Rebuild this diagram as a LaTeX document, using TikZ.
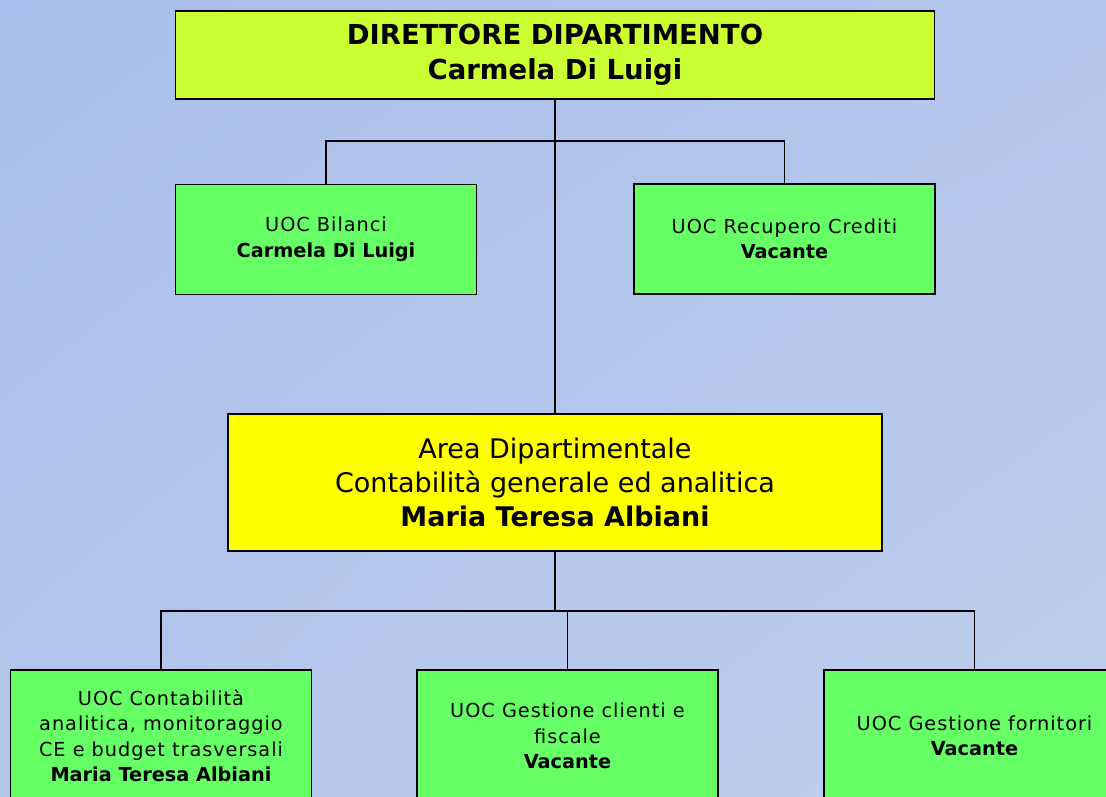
\documentclass[tikz,border=0pt]{standalone}
\usepackage{fontspec}
\setmainfont{DejaVu Sans}
\newfontfamily\uocfont{DejaVu Sans}[LetterSpace=5, BoldFeatures={LetterSpace=0}]
\usepackage{xcolor}
\usetikzlibrary{shadings}
\definecolor{bgtl}{RGB}{167,191,234}
\definecolor{bgmid}{RGB}{179,198,235}
\definecolor{bgbr}{RGB}{192,207,238}
\definecolor{dirgreen}{RGB}{204,255,51}
\definecolor{uocgreen}{RGB}{102,255,102}
\definecolor{areayellow}{RGB}{255,255,0}
\tikzset{
  box/.style={draw, line width=1.6pt, align=center, inner sep=0pt},
  dirbox/.style={box, fill=dirgreen, minimum width=759, minimum height=88,
    font=\bfseries\fontsize{27.5}{35}\selectfont},
  areabox/.style={box, fill=areayellow, minimum width=654, minimum height=137,
    font=\fontsize{27}{34}\selectfont},
  uocbox/.style={box, fill=uocgreen, minimum width=301, minimum height=110,
    font=\uocfont\fontsize{19.3}{25.5}\selectfont},
  link/.style={line width=1.2pt},
  trunk/.style={line width=2.2pt}
}

\begin{document}
\begin{tikzpicture}[x=1pt,y=-1pt]
\useasboundingbox (0,0) rectangle (1106,797);
\clip (0,0) rectangle (1106,797);
%background
\shade[upper left=bgtl, upper right=bgmid, lower left=bgmid, lower right=bgbr]
  (0,0) rectangle (1106,797);

%boxes
\node[dirbox] (dir) at (555,55) {DIRETTORE DIPARTIMENTO\\Carmela Di Luigi};
\node[uocbox] (bil) at (326,239.5) {UOC Bilanci\\\textbf{Carmela Di Luigi}};
\node[uocbox] (rec) at (784.5,239) {UOC Recupero Crediti\\\textbf{Vacante}};
\node[areabox] (area) at (555,482.5)
  {Area Dipartimentale\\Contabilità generale ed analitica\\\textbf{Maria Teresa Albiani}};
\node[uocbox, minimum height=132] (ana) at (161,736)
  {UOC Contabilità\\analitica, monitoraggio\\CE e budget trasversali\\\textbf{Maria Teresa Albiani}};
\node[uocbox, minimum height=132] (cli) at (567.5,736)
  {UOC Gestione clienti e\\fiscale\\\textbf{Vacante}};
\node[uocbox, minimum height=132] (for) at (974.5,736)
  {UOC Gestione fornitori\\\textbf{Vacante}};

%lines
\coordinate (hubA) at (555,141);
\coordinate (hubB) at (555,611);
\draw[trunk] (dir.south) -- (hubA);
\draw[link] (hubA) -- (area.north);
\draw[link] (bil.north) |- (hubA) -| (rec.north);
\draw[trunk] (area.south) -- (hubB);
\draw[link] (ana.north) |- (hubB) -| (for.north);
\draw[link] (cli.north) -- (cli.north |- hubB);
\end{tikzpicture}
\end{document}
